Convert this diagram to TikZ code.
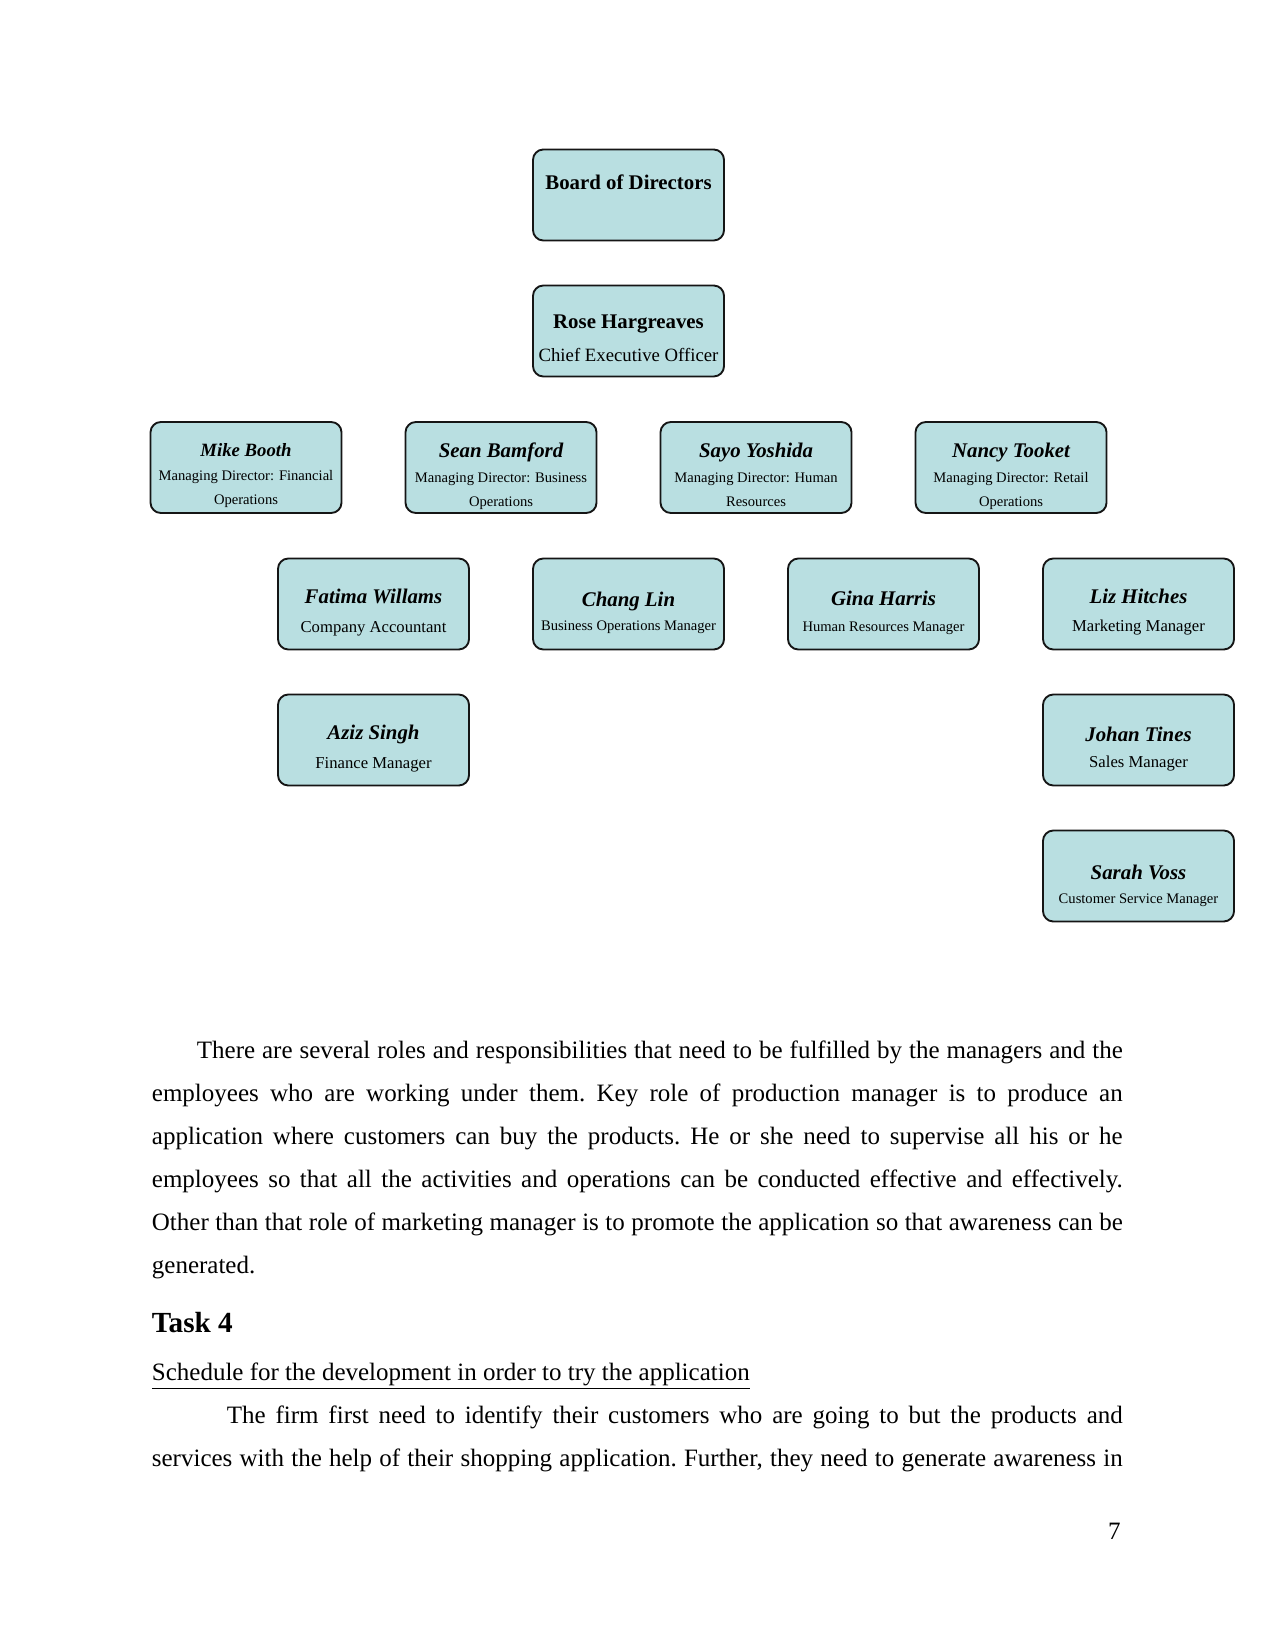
\documentclass[tikz,border=0pt]{standalone}
\usepackage{fontspec}
\setmainfont{Liberation Serif}
\usetikzlibrary{positioning}
\definecolor{boxfill}{HTML}{B9DFE1}
\definecolor{ink}{HTML}{151515}
\newcommand{\pname}[1]{{\fontsize{10pt}{12pt}\selectfont\bfseries\itshape #1}}
\newcommand{\prole}[1]{{\fontsize{7pt}{9pt}\selectfont #1}}
\newcommand{\mrole}[1]{{\fontsize{8pt}{10pt}\selectfont #1}}
\newcommand{\jline}[1]{\makebox[466pt][s]{\spaceskip=.25em plus 1em minus .2em\relax #1}}
\tikzset{
  orgbox/.style={draw=ink,fill=boxfill,line width=0.9pt,rounded corners=5pt,
                 minimum width=91.7pt,minimum height=43.7pt,inner sep=1pt,
                 align=center,font=\fontsize{10pt}{12pt}\selectfont,
                 text depth=0pt},
  bodytext/.style={anchor=base west,inner sep=0pt,text width=466pt,
                   font=\fontsize{12pt}{20.7pt}\selectfont\frenchspacing}
}

\begin{document}
\begin{tikzpicture}[x=0.48pt,y=-0.48pt]
  \useasboundingbox (0,0) rectangle (1275,1650);
  % Board and CEO
  \node[orgbox,text height=0pt,text depth=5.2pt] (board) at (628.5,195)
    {\textbf{Board of Directors}};
  \node[orgbox,text height=29.4pt] (ceo) at (628.5,331)
    {\textbf{Rose Hargreaves}\\[4pt]
     {\fontsize{9pt}{11pt}\selectfont Chief Executive Officer}};

  % Managing directors
  \node[orgbox,text height=35.7pt] (mike) at (246,467.5)
    {{\fontsize{9pt}{11pt}\selectfont\bfseries\itshape Mike Booth}\\[-0.2pt]
     \prole{Managing Director: Financial}\\[-0.5pt]\prole{Operations}};
  \node[orgbox,text height=37.2pt] (sean) at (501,467.5)
    {\pname{Sean Bamford}\\[-0.2pt]
     \prole{Managing Director: Business}\\[-0.5pt]\prole{Operations}};
  \node[orgbox,text height=37.2pt] (sayo) at (756,467.5)
    {\pname{Sayo Yoshida}\\[-0.2pt]
     \prole{Managing Director: Human}\\[-0.5pt]\prole{Resources}};
  \node[orgbox,text height=37.2pt] (nancy) at (1011,467.5)
    {\pname{Nancy Tooket}\\[-0.2pt]
     \prole{Managing Director: Retail}\\[-0.5pt]\prole{Operations}};

  % Managers
  \node[orgbox,text height=27.5pt] (fatima) at (373.5,604)
    {\pname{Fatima Willams}\\[2.1pt]\mrole{Company Accountant}};
  \node[orgbox,text height=25pt] (chang) at (628.5,604)
    {\pname{Chang Lin}\\[-0.5pt]\prole{Business Operations Manager}};
  \node[orgbox,text height=26pt] (gina) at (883.5,604)
    {\pname{Gina Harris}\\[0.4pt]\prole{Human Resources Manager}};
  \node[orgbox,text height=26.6pt] (liz) at (1138.5,604)
    {\pname{Liz Hitches}\\[1.7pt]\mrole{Marketing Manager}};
  \node[orgbox,text height=27.2pt] (aziz) at (373.5,740)
    {\pname{Aziz Singh}\\[1.7pt]\mrole{Finance Manager}};
  \node[orgbox,text height=26.6pt] (johan) at (1138.5,740)
    {\pname{Johan Tines}\\[0.7pt]\mrole{Sales Manager}};
  \node[orgbox,text height=26.2pt] (sarah) at (1138.5,876)
    {\pname{Sarah Voss}\\[-0.5pt]\prole{Customer Service Manager}};

  % Running text
  \node[bodytext] (para1) at (151.5,1058) {%
    \jline{\hspace*{21.6pt}There are several roles and responsibilities that need to be fulfilled by the managers and the}\\
    \jline{employees who are working under them. Key role of production manager is to produce an}\\
    \jline{application where customers can buy the products. He or she need to supervise all his or he}\\
    \jline{employees so that all the activities and operations can be conducted effective and effectively.}\\
    \jline{Other than that role of marketing manager is to promote the application so that awareness can be}\\
    generated.};
  \node[anchor=base west,inner sep=0pt,font=\fontsize{14pt}{16pt}\selectfont\bfseries]
    (task) at (151.5,1332) {Task 4};
  \node[anchor=base west,inner sep=0pt,font=\fontsize{12pt}{14pt}\selectfont]
    (sched) at (151.5,1380) {\underline{Schedule for the development in order to try the application}};
  \node[bodytext] (para2) at (151.5,1423) {%
    \jline{\hspace*{36pt}The firm first need to identify their customers who are going to but the products and}\\
    \jline{services with the help of their shopping application. Further, they need to generate awareness in}};
  \node[anchor=base east,inner sep=0pt,font=\fontsize{12pt}{14pt}\selectfont]
    (pageno) at (1121,1539) {7};
\end{tikzpicture}
\end{document}
